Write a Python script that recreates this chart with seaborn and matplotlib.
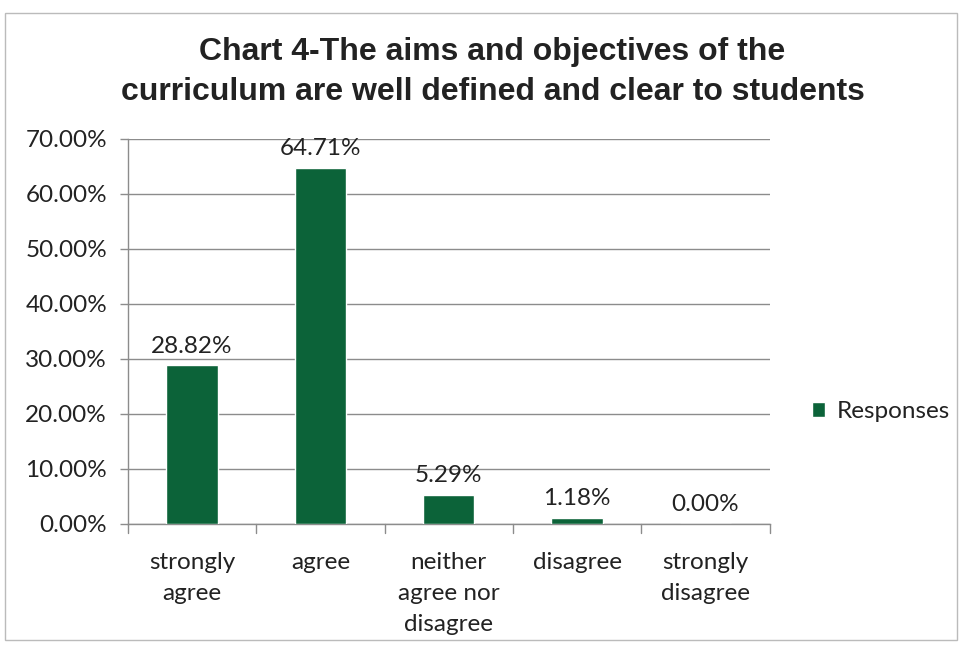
import pandas as pd
import seaborn as sns
import matplotlib.pyplot as plt
from matplotlib.patches import Rectangle, Patch
from matplotlib.ticker import FuncFormatter

# data
categories = ['strongly\nagree', 'agree', 'neither\nagree nor\ndisagree', 'disagree', 'strongly\ndisagree']
responses = [28.82, 64.71, 5.29, 1.18, 0.00]

df = pd.DataFrame({'category': categories, 'Responses': responses})

sns.set_theme(style='white')
plt.rcParams['font.family'] = ['Lato', 'DejaVu Sans']

green = '#0c6339'
grid_color = '#8c8c8c'
text_color = '#222222'
fs = 17.5

fig = plt.figure(figsize=(9.62, 6.45), dpi=100)
fig.patch.set_facecolor('white')
ax = fig.add_axes([0.133, 0.1876, 0.667, 0.5969])

sns.barplot(data=df, x='category', y='Responses', color=green, width=0.40,
            saturation=1, ax=ax, zorder=3)

ax.set_ylim(0, 70)
ax.set_yticks(range(0, 71, 10))
ax.yaxis.set_major_formatter(FuncFormatter(lambda v, _: f'{v:.2f}%'))
ax.set_xlim(-0.5, len(categories) - 0.5)
ax.set_xlabel('')
ax.set_ylabel('')

ax.grid(axis='y', color=grid_color, linewidth=1, zorder=0)
for side in ['top', 'right']:
    ax.spines[side].set_visible(False)
for side in ['left', 'bottom']:
    ax.spines[side].set_color(grid_color)
    ax.spines[side].set_linewidth(1)

ax.tick_params(axis='y', labelsize=fs, labelcolor=text_color, length=6, width=1,
               direction='out', left=True, pad=9, color=grid_color)
ax.tick_params(axis='x', labelsize=fs, labelcolor=text_color, length=0, pad=20)
ax.set_xticks(range(len(categories)))
ax.set_xticklabels(categories, linespacing=1.6)

# category separator ticks on x axis
for b in [i - 0.5 for i in range(len(categories) + 1)]:
    ax.plot([b, b], [0, -1.6], color=grid_color, lw=1, clip_on=False, zorder=4)

for i, v in enumerate(responses):
    ax.text(i, v + 1.6, f'{v:.2f}%', ha='center', va='bottom', fontsize=fs, color=text_color)

fig.text(0.512, 0.888, 'Chart 4-The aims and objectives of the\ncurriculum are well defined and clear to students',
         ha='center', va='center', fontsize=23, fontweight='bold',
         family=['Liberation Sans', 'DejaVu Sans'], color=text_color, linespacing=1.45)

leg = fig.legend(handles=[Patch(facecolor=green, label='Responses')],
                 loc='center left', bbox_to_anchor=(0.821, 0.362), frameon=False,
                 fontsize=fs, handlelength=0.55, handleheight=0.55, handletextpad=0.5,
                 labelcolor=text_color)

# outer chart border
fig.add_artist(Rectangle((0.005, 0.008), 0.99, 0.972, transform=fig.transFigure,
                         fill=False, edgecolor='#bbbbbb', lw=1))

fig.savefig('out.png', dpi=100)
